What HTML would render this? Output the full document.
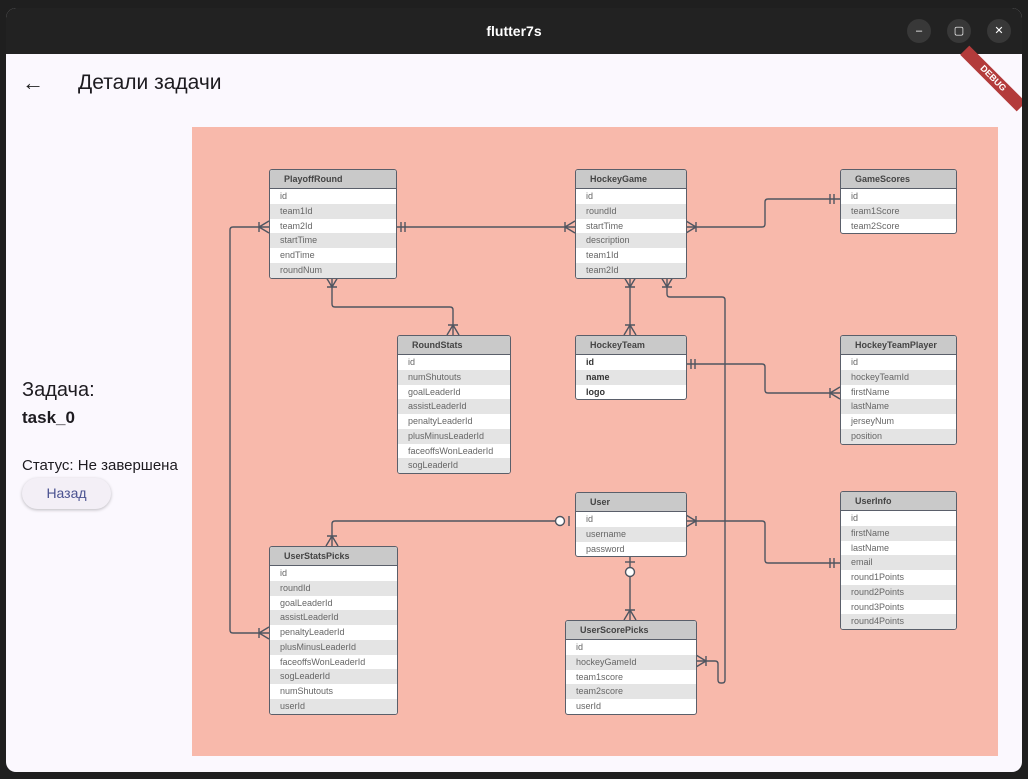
<!DOCTYPE html>
<html><head><meta charset="utf-8"><style>
*{box-sizing:border-box;margin:0;padding:0}
body{width:1028px;height:779px;background:#1f1f1f;position:relative;overflow:hidden;font-family:"Liberation Sans","DejaVu Sans",sans-serif}
.win{position:absolute;left:6px;top:8px;width:1016px;height:764px;border-radius:10px;overflow:hidden;background:#fbf8fe}
.tb{position:absolute;left:0;top:0;width:100%;height:46px;background:#222;color:#fff;font-weight:bold;font-size:14px;text-align:center;line-height:46px}
.btn{position:absolute;top:11px;width:24px;height:24px;border-radius:12px;background:#383838;color:#fff;font-size:11px;line-height:24px;text-align:center;font-weight:normal}
.diag{position:absolute;left:192px;top:127px;width:806px;height:629px;background:#f8b9ab}
.t{position:absolute;border:1.5px solid #5a5f6a;border-radius:3px;background:#fff;overflow:hidden;font-size:9px;color:#666}
.t .h{height:19px;background:#c9c9c9;border-bottom:1.5px solid #5a5f6a;font-weight:bold;color:#444;padding-left:14px;line-height:19px}
.t .r{height:14.75px;line-height:14.75px;padding-left:10px}
.t .r:nth-child(even){background:#e4e4e4}
.b .r{font-weight:bold;color:#333}
svg{position:absolute;left:0;top:0}
</style></head><body>
<div class="win">
<div class="tb">flutter7s
<div class="btn" style="left:901px">–</div><div class="btn" style="left:941px">▢</div><div class="btn" style="left:981px">✕</div></div>
<div style="position:absolute;left:947px;top:64px;width:80px;height:13px;background:#b33b3b;color:#fff;font-size:9px;font-weight:bold;text-align:center;line-height:13px;transform:rotate(45deg)">DEBUG</div>
</div>
<div style="position:absolute;left:22px;top:70px;font-size:22px;color:#222">←</div>
<div style="position:absolute;left:78px;top:71px;font-size:21px;color:#1d1b20">Детали задачи</div>
<div style="position:absolute;left:22px;top:379px;font-size:20px;color:#1d1b20">Задача:</div>
<div style="position:absolute;left:22px;top:408px;font-size:17px;font-weight:bold;color:#1d1b20">task_0</div>
<div style="position:absolute;left:22px;top:457px;font-size:15px;color:#1d1b20">Статус: Не завершена</div>
<div style="position:absolute;left:22px;top:478px;width:89px;height:31px;border-radius:16px;background:#f3eff6;box-shadow:0 1px 3px rgba(0,0,0,.25);color:#4a5290;font-size:14px;text-align:center;line-height:31px">Назад</div>
<div class="diag"></div>

<svg width="1028" height="779" fill="none" stroke="#4f5560" stroke-width="1.4">
<path d="M396 227H575"/><path d="M401 222v10M405 222v10"/><path d="M565 227L575 221M565 227L575 233M565 222v10"/>
<path d="M269 227H233Q230 227 230 230V630Q230 633 233 633H269"/>
<path d="M259 227L269 221M259 227L269 233M259 222v10"/>
<path d="M259 633L269 627M259 633L269 639M259 628v10"/>
<path d="M332 277V304Q332 307 335 307H450Q453 307 453 310V335"/>
<path d="M332 287L326 277M332 287L338 277M327 287h10"/>
<path d="M453 325L447 335M453 325L459 335M448 325h10"/>
<path d="M630 277V335"/>
<path d="M630 287L624 277M630 287L636 277M625 287h10"/>
<path d="M630 325L624 335M630 325L636 335M625 325h10"/>
<path d="M667 277V294Q667 297 670 297H722Q725 297 725 300V680Q725 683 722 683H721Q718 683 718 680V664Q718 661 715 661H696"/>
<path d="M667 287L661 277M667 287L673 277M662 287h10"/>
<path d="M706 661L696 655M706 661L696 667M706 656v10"/>
<path d="M686 227H762Q765 227 765 224V202Q765 199 768 199H840"/>
<path d="M696 227L686 221M696 227L686 233M696 222v10"/>
<path d="M830 194v10M834 194v10"/>
<path d="M686 364H762Q765 364 765 367V390Q765 393 768 393H840"/>
<path d="M691 359v10M695 359v10"/>
<path d="M830 393L840 387M830 393L840 399M830 388v10"/>
<path d="M686 521H762Q765 521 765 524V560Q765 563 768 563H840"/>
<path d="M696 521L686 515M696 521L686 527M696 516v10"/>
<path d="M830 558v10M834 558v10"/>
<path d="M555 521H335Q332 521 332 524V546"/>
<path d="M569 516v10"/>
<circle cx="560" cy="521" r="4.5" fill="#fff"/>
<path d="M332 536L326 546M332 536L338 546M327 536h10"/>
<path d="M630 557V620"/>
<path d="M625 562h10"/>
<circle cx="630" cy="572" r="4.5" fill="#fff"/>
<path d="M630 610L624 620M630 610L636 620M625 610h10"/>
</svg>

<div class="t" style="left:269px;top:169px;width:128px"><div class="h">PlayoffRound</div><div><div class="r">id</div><div class="r">team1Id</div><div class="r">team2Id</div><div class="r">startTime</div><div class="r">endTime</div><div class="r">roundNum</div></div></div>
<div class="t" style="left:575px;top:169px;width:112px"><div class="h">HockeyGame</div><div><div class="r">id</div><div class="r">roundId</div><div class="r">startTime</div><div class="r">description</div><div class="r">team1Id</div><div class="r">team2Id</div></div></div>
<div class="t" style="left:840px;top:169px;width:117px"><div class="h">GameScores</div><div><div class="r">id</div><div class="r">team1Score</div><div class="r">team2Score</div></div></div>
<div class="t" style="left:397px;top:335px;width:114px"><div class="h">RoundStats</div><div><div class="r">id</div><div class="r">numShutouts</div><div class="r">goalLeaderId</div><div class="r">assistLeaderId</div><div class="r">penaltyLeaderId</div><div class="r">plusMinusLeaderId</div><div class="r">faceoffsWonLeaderId</div><div class="r">sogLeaderId</div></div></div>
<div class="t b" style="left:575px;top:335px;width:112px"><div class="h">HockeyTeam</div><div><div class="r">id</div><div class="r">name</div><div class="r">logo</div></div></div>
<div class="t" style="left:840px;top:335px;width:117px"><div class="h">HockeyTeamPlayer</div><div><div class="r">id</div><div class="r">hockeyTeamId</div><div class="r">firstName</div><div class="r">lastName</div><div class="r">jerseyNum</div><div class="r">position</div></div></div>
<div class="t" style="left:575px;top:492px;width:112px"><div class="h">User</div><div><div class="r">id</div><div class="r">username</div><div class="r">password</div></div></div>
<div class="t" style="left:840px;top:491px;width:117px"><div class="h">UserInfo</div><div><div class="r">id</div><div class="r">firstName</div><div class="r">lastName</div><div class="r">email</div><div class="r">round1Points</div><div class="r">round2Points</div><div class="r">round3Points</div><div class="r">round4Points</div></div></div>
<div class="t" style="left:269px;top:546px;width:129px"><div class="h">UserStatsPicks</div><div><div class="r">id</div><div class="r">roundId</div><div class="r">goalLeaderId</div><div class="r">assistLeaderId</div><div class="r">penaltyLeaderId</div><div class="r">plusMinusLeaderId</div><div class="r">faceoffsWonLeaderId</div><div class="r">sogLeaderId</div><div class="r">numShutouts</div><div class="r">userId</div></div></div>
<div class="t" style="left:565px;top:620px;width:132px"><div class="h">UserScorePicks</div><div><div class="r">id</div><div class="r">hockeyGameId</div><div class="r">team1score</div><div class="r">team2score</div><div class="r">userId</div></div></div>
</body></html>
